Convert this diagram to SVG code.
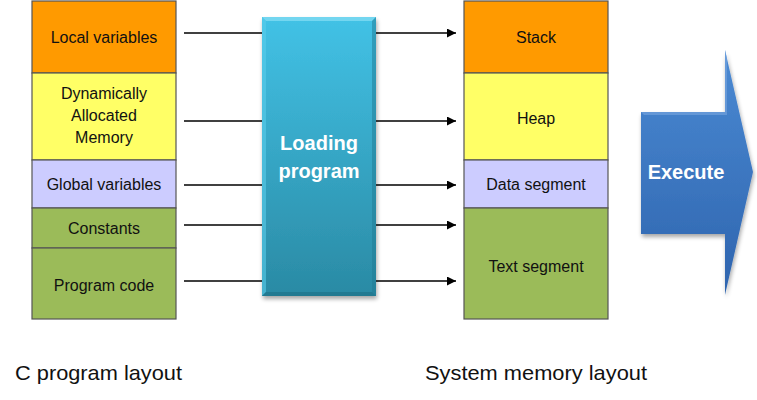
<svg xmlns="http://www.w3.org/2000/svg" width="757" height="400" viewBox="0 0 757 400">
<defs>
<style>
.seg{stroke:#555;stroke-width:1.2}
.lbl{font-family:"Liberation Sans",Arial,sans-serif;font-size:16px;fill:#111;text-anchor:middle;dominant-baseline:central}
.big{font-family:"Liberation Sans",Arial,sans-serif;font-size:20px;font-weight:bold;fill:#fff;text-anchor:middle;dominant-baseline:central}
.cap{font-family:"Liberation Sans",Arial,sans-serif;font-size:21px;fill:#111}
.con{stroke:#000;stroke-width:1.5;fill:none}
</style>
<linearGradient id="gLoad" x1="0" y1="0" x2="0" y2="1">
<stop offset="0" stop-color="#42C2E6"/>
<stop offset="1" stop-color="#2A8AA4"/>
</linearGradient>
<linearGradient id="gExec" x1="0" y1="0" x2="0" y2="1">
<stop offset="0" stop-color="#4B8AD3"/>
<stop offset="1" stop-color="#2E64AE"/>
</linearGradient>
<filter id="sh" x="-20%" y="-20%" width="140%" height="140%">
<feGaussianBlur in="SourceAlpha" stdDeviation="2"/>
<feOffset dx="1" dy="3"/>
<feComponentTransfer><feFuncA type="linear" slope="0.35"/></feComponentTransfer>
<feMerge><feMergeNode/><feMergeNode in="SourceGraphic"/></feMerge>
</filter>
<marker id="ah" viewBox="0 0 10 10" refX="10" refY="5" markerWidth="6" markerHeight="6" orient="auto" markerUnits="strokeWidth">
<path d="M0,0 L10,5 L0,10 z" fill="#000"/>
</marker>
</defs>
<rect width="757" height="400" fill="#fff"/>

<g id="c-layout">
<g id="local-variables"><rect class="seg" x="32" y="1" width="144" height="72" fill="#FF9A00"/><text class="lbl" x="104" y="37">Local variables</text></g>
<g id="dynamic-memory"><rect class="seg" x="32" y="73" width="144" height="87" fill="#FFFF66"/><text class="lbl" x="104" y="93">Dynamically</text><text class="lbl" x="104" y="115">Allocated</text><text class="lbl" x="104" y="137">Memory</text></g>
<g id="global-variables"><rect class="seg" x="32" y="160" width="144" height="48" fill="#CCCCFF"/><text class="lbl" x="104" y="184">Global variables</text></g>
<g id="constants"><rect class="seg" x="32" y="208" width="144" height="40" fill="#9BBB59"/><text class="lbl" x="104" y="228">Constants</text></g>
<g id="program-code"><rect class="seg" x="32" y="248" width="144" height="71" fill="#9BBB59"/><text class="lbl" x="104" y="285">Program code</text></g>
</g>

<g id="connectors">
<line class="con" x1="184" y1="33" x2="262" y2="33"/>
<line class="con" x1="184" y1="121" x2="262" y2="121"/>
<line class="con" x1="184" y1="185" x2="262" y2="185"/>
<line class="con" x1="184" y1="225" x2="262" y2="225"/>
<line class="con" x1="184" y1="281" x2="262" y2="281"/>
<line class="con" x1="376" y1="33" x2="456" y2="33" marker-end="url(#ah)"/>
<line class="con" x1="376" y1="121" x2="456" y2="121" marker-end="url(#ah)"/>
<line class="con" x1="376" y1="185" x2="456" y2="185" marker-end="url(#ah)"/>
<line class="con" x1="376" y1="225" x2="456" y2="225" marker-end="url(#ah)"/>
<line class="con" x1="376" y1="281" x2="456" y2="281" marker-end="url(#ah)"/>
</g>

<g id="loading-program">
<rect x="262" y="17" width="114" height="279" fill="url(#gLoad)" filter="url(#sh)"/>
<path d="M262,17 L376,17 L372,21 L266,21 Z" fill="#7FDBF2" opacity="0.8"/>
<path d="M262,17 L266,21 L266,292 L262,296 Z" fill="#5ACDEB" opacity="0.6"/>
<path d="M376,17 L372,21 L372,292 L376,296 Z" fill="#1F7A92" opacity="0.5"/>
<path d="M262,296 L266,292 L372,292 L376,296 Z" fill="#1E6F86" opacity="0.6"/>
<text class="big" x="319" y="143">Loading</text>
<text class="big" x="319" y="171">program</text>
</g>

<g id="memory-layout">
<g id="stack"><rect class="seg" x="464" y="1" width="144" height="72" fill="#FF9A00"/><text class="lbl" x="536" y="37">Stack</text></g>
<g id="heap"><rect class="seg" x="464" y="73" width="144" height="87" fill="#FFFF66"/><text class="lbl" x="536" y="118">Heap</text></g>
<g id="data-segment"><rect class="seg" x="464" y="160" width="144" height="48" fill="#CCCCFF"/><text class="lbl" x="536" y="184">Data segment</text></g>
<g id="text-segment"><rect class="seg" x="464" y="208" width="144" height="111" fill="#9BBB59"/><text class="lbl" x="536" y="266">Text segment</text></g>
</g>

<g id="execute">
<path d="M641,112 L725,112 L725,50 L753,172 L725,295 L725,234 L641,234 Z" fill="url(#gExec)" filter="url(#sh)"/>
<path d="M641,112 L725,112 L725,50 L727,58 L727,115 L644,115 Z" fill="#79A7E0" opacity="0.6"/>
<text class="big" x="686" y="172">Execute</text>
</g>

<text id="c-program-caption" class="cap" x="15" y="380" textLength="167" lengthAdjust="spacingAndGlyphs">C program layout</text>
<text id="system-memory-caption" class="cap" x="425" y="380" textLength="222" lengthAdjust="spacingAndGlyphs">System memory layout</text>
</svg>
